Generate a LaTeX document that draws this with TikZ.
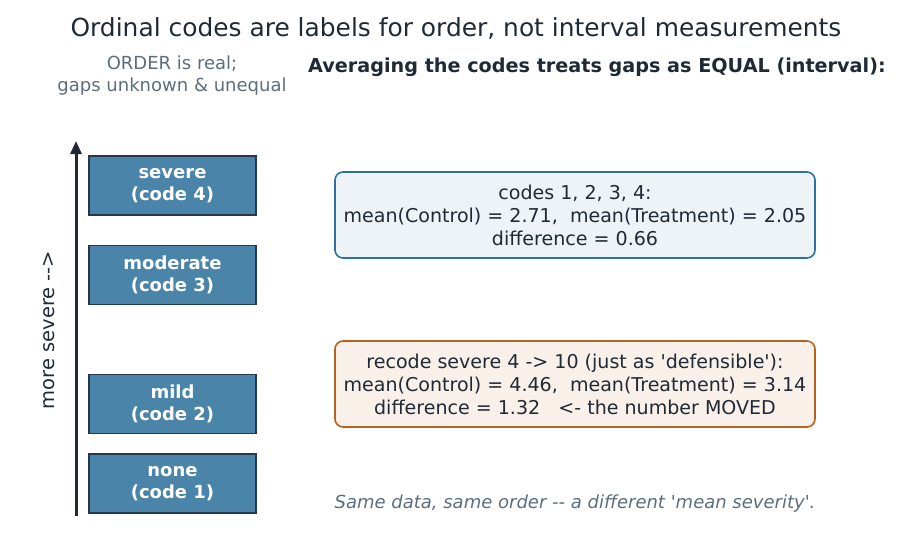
\documentclass[tikz,border=0pt]{standalone}
\usepackage{fontspec}
\setmainfont{DejaVu Sans}[Ligatures=TeXOff]
\usepackage{tikz}
\usetikzlibrary{
  arrows.meta,
  positioning
}
\definecolor{inkdark}{HTML}{1F2A36}
\definecolor{inkgray}{HTML}{5D6D7E}
\definecolor{levelfill}{HTML}{4A84A8}
\definecolor{leveledge}{HTML}{263849}
\definecolor{bluefill}{HTML}{EEF3F8}
\definecolor{blueedge}{HTML}{2E70A0}
\definecolor{orangefill}{HTML}{FAF0EA}
\definecolor{orangeedge}{HTML}{B8621E}
\tikzset{
  axisarrow/.style = {-{Triangle[length=13pt, width=11pt]}, line width=3pt, inkdark},
  levelbox/.style  = {draw=leveledge, line width=1.8pt, fill=levelfill,
                      text=white, minimum width=167pt, minimum height=59pt,
                      align=center, inner sep=0pt,
                      font=\bfseries\fontsize{18}{22}\selectfont},
  meanbox/.style   = {draw, rounded corners=8pt, line width=1.6pt,
                      minimum width=480pt, minimum height=86pt,
                      align=center, inner sep=0pt, text=inkdark,
                      font=\fontsize{19.05}{23}\selectfont},
  notetext/.style  = {align=center, inner sep=0pt, text=inkgray,
                      font=\fontsize{18}{22}\selectfont},
}

\begin{document}
\begin{tikzpicture}[x=1pt, y=-1pt]
\useasboundingbox (0,0) rectangle (913,558);

% ========== headings ==========
\node[inner sep=0pt, text=inkdark, font=\fontsize{24.9}{28}\selectfont]
  (title) at (456,28) {Ordinal codes are labels for order, not interval measurements};
\node[notetext] (ordernote) at (172,76) {ORDER is real;\\gaps unknown \& unequal};
\node[inner sep=0pt, anchor=west, text=inkdark, font=\bfseries\fontsize{19.2}{22}\selectfont]
  (avghead) at (308,67) {Averaging the codes treats gaps as EQUAL (interval):};

% ========== LEFT: ordinal levels ==========
\coordinate (axbase) at (76,516);
\coordinate (axtip) at (76,141);
\draw[axisarrow] (axbase) -- (axtip);
\node[notetext, text=inkdark, rotate=90, font=\fontsize{19.5}{22}\selectfont]
  (axlabel) at (49,330) {more severe -->};

\node[levelbox] (lvsevere) at (172.5,185.5) {severe\\(code 4)};
\node[levelbox] (lvmoderate) at (172.5,275) {moderate\\(code 3)};
\node[levelbox] (lvmild) at (172.5,404) {mild\\(code 2)};
\node[levelbox] (lvnone) at (172.5,483.5) {none\\(code 1)};

% ========== RIGHT: means under two codings ==========
\node[meanbox, draw=blueedge, fill=bluefill] (codemean) at (575,215)
  {codes 1, 2, 3, 4:\\mean(Control) = 2.71,\ \ mean(Treatment) = 2.05\\difference = 0.66};
\node[meanbox, draw=orangeedge, fill=orangefill] (recodemean) at (575,384)
  {recode severe 4 -> 10 (just as 'defensible'):\\mean(Control) = 4.46,\ \ mean(Treatment) = 3.14\\difference = 1.32\ \ \ <- the number MOVED};

\node[notetext, font=\itshape\fontsize{18}{22}\selectfont] (caption) at (575,504)
  {Same data, same order -{}- a different 'mean severity'.};

\end{tikzpicture}
\end{document}
